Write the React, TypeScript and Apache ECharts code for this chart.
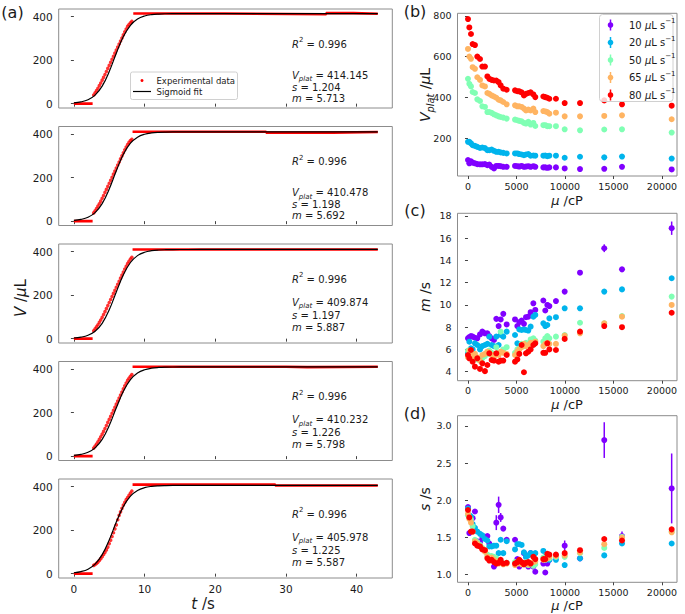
import React, { useEffect, useRef } from 'react';
import * as echarts from 'echarts';

const FONT = 'DejaVu Sans';
const TXT = '#1a1a1a';
const SPINE = '#8c8c8c';

// ---------------- (a) volume vs time ----------------
const T_TICKS = [0, 10, 20, 30, 40];
const V_TICKS = [0, 200, 400];
const ZERO_T = [0, 2.65];
const RISE_T = [2.8, 3.0, 3.2, 3.4, 3.6, 3.8, 4.0, 4.2, 4.4, 4.6, 4.8, 5.0, 5.2, 5.4, 5.6, 5.8, 6.0, 6.2, 6.4, 6.6, 6.8, 7.0, 7.2, 7.4, 7.6, 7.8, 8.0, 8.2];
const RISE_V1 = [40, 50, 60, 71, 83, 95, 108, 121, 134, 148, 162, 176, 190, 204, 218, 232, 246, 260, 274, 288, 302, 316, 330, 343, 355, 364, 372, 378];
const RISE_V2 = [38, 48, 58, 69, 80, 92, 105, 118, 132, 146, 160, 174, 188, 202, 216, 230, 244, 258, 272, 286, 300, 314, 328, 341, 352, 362, 370, 376];
const RISE_V3 = [36, 45, 54, 64, 75, 86, 98, 111, 124, 138, 152, 166, 180, 194, 208, 222, 236, 250, 264, 278, 292, 306, 320, 333, 345, 356, 366, 374];
const RISE_V4 = [37, 46, 56, 66, 77, 89, 101, 114, 127, 141, 155, 169, 183, 197, 211, 225, 239, 253, 267, 281, 295, 309, 323, 336, 348, 358, 367, 375];
const RISE_V5 = [38, 42, 47, 53, 61, 69, 78, 88, 98, 109, 122, 138, 154, 171, 188, 206, 224, 248, 268, 284, 300, 315, 328, 340, 350, 360, 370, 380];
const PLAT_1 = [[8.4, 414], [21.3, 414], [21.3, 411], [35.7, 411], [35.7, 416], [39.6, 416], [39.6, 413], [43, 413]];
const PLAT_2 = [[8.3, 411], [27.2, 411], [27.2, 407], [36.7, 407], [36.7, 410], [43, 410]];
const PLAT_3 = [[8.3, 410], [43, 410]];
const PLAT_4 = [[8.3, 411], [30, 411], [30, 409], [33, 409], [33, 411], [43, 411]];
const PLAT_5 = [[8.3, 409], [28.5, 409], [28.5, 405], [43, 405]];
const FIT_T = [0, 1, 2, 3, 4, 5, 6, 7, 8, 9, 10, 11, 12, 13, 14, 16, 20, 43];
const FIT_V1 = [3.6, 8.1, 18.2, 39.4, 80.4, 147.4, 231.6, 308.4, 360.2, 388.8, 402.7, 409.1, 411.9, 413.2, 413.7, 414.1, 414.1, 414.1];
const FIT_V2 = [3.5, 8.0, 18.0, 39.2, 80.5, 147.6, 231.5, 307.3, 358.3, 386.1, 399.5, 405.6, 408.4, 409.6, 410.1, 410.4, 410.5, 410.5];
const FIT_V3 = [3.0, 6.8, 15.4, 33.7, 70.2, 132.3, 214.6, 293.9, 350.0, 381.6, 397.1, 404.2, 407.4, 408.8, 409.4, 409.8, 409.9, 409.9];
const FIT_V4 = [3.6, 8.0, 17.7, 38.0, 76.8, 140.6, 222.0, 298.3, 351.8, 382.2, 397.3, 404.4, 407.6, 409.1, 409.7, 410.1, 410.2, 410.2];
const FIT_V5 = [4.2, 9.4, 20.6, 43.8, 87.2, 155.2, 236.9, 308.6, 356.3, 382.4, 395.2, 401.1, 403.8, 405.0, 405.6, 405.9, 406.0, 406.0];
const FIT_R2 = ['0.996', '0.996', '0.996', '0.996', '0.996'];
const FIT_VPLAT = ['414.145', '410.478', '409.874', '410.232', '405.978'];
const FIT_S = ['1.204', '1.198', '1.197', '1.226', '1.225'];
const FIT_M = ['5.713', '5.692', '5.887', '5.798', '5.587'];

// ---------------- (b)(c)(d) vs viscosity ----------------
const MU = [0, 140, 310, 480, 720, 960, 1240, 1480, 1750, 2000, 2200, 2440, 2680, 2920, 3160, 3370, 3640, 3990, 4850, 5090, 5290, 5530, 5770, 5980, 6220, 6460, 6740, 6940, 7770, 7970, 8180, 8390, 9070, 9970, 11550, 14050, 15880, 21000];
const MU_TICKS = [0, 5000, 10000, 15000, 20000];
const VP_TICKS = [200, 400, 600, 800];
const M_TICKS = [4, 6, 8, 10, 12, 14, 16, 18];
const S_TICKS = [1.0, 1.5, 2.0, 2.5, 3.0];
const RATES = ['10', '20', '50', '65', '80'];

const VP_10 = [96, 80, 90, 83, 80, 76, 75, 75, 76, 71, 74, 63, 55, 67, 67, 66, 63, 63, 67, 66, 64, 67, 63, 64, 66, 63, 66, 63, 60, 60, 58, 60, 60, 55, 52, 53, 63, 50];
const VP_20 = [185, 185, 177, 168, 165, 160, 155, 157, 154, 144, 144, 147, 141, 136, 136, 133, 131, 128, 128, 128, 125, 123, 120, 123, 125, 117, 118, 117, 117, 118, 115, 117, 117, 107, 112, 109, 113, 103];
const VP_50 = [492, 468, 455, 428, 423, 392, 384, 358, 355, 330, 330, 326, 319, 314, 309, 306, 303, 298, 293, 290, 287, 285, 277, 274, 282, 269, 277, 262, 266, 266, 261, 261, 261, 246, 241, 245, 246, 230];
const VP_65 = [638, 601, 590, 549, 541, 500, 487, 460, 455, 423, 419, 411, 406, 400, 390, 387, 379, 368, 363, 358, 358, 355, 347, 338, 342, 338, 347, 330, 335, 333, 330, 322, 327, 309, 309, 311, 314, 295];
const VP_80 = [784, 743, 711, 662, 657, 601, 589, 552, 552, 504, 492, 487, 484, 484, 476, 460, 444, 439, 436, 432, 431, 426, 411, 419, 423, 426, 416, 403, 406, 403, 400, 395, 395, 374, 374, 387, 368, 361];

const M_10 = [7.0, 7.1, 7.2, 7.15, 7.05, 7.0, 7.35, 7.6, 7.45, 7.45, 7.2, 7.0, 6.85, 8.75, 8.1, 8.7, 9.2, 8.25, 8.7, 8.1, 8.45, 8.6, 8.3, 8.9, 8.95, 9.35, 10.15, 9.55, 10.4, 9.5, 10.0, 9.9, 10.35, 11.2, 12.9, 15.1, 13.2, 16.9];
const M_20 = [5.65, 6.7, 6.1, 6.0, 6.55, 6.4, 6.0, 6.3, 6.4, 6.5, 7.15, 6.4, 6.3, 7.15, 6.4, 7.3, 7.15, 7.6, 7.3, 6.55, 7.8, 7.75, 7.8, 7.75, 7.7, 8.05, 8.95, 9.1, 8.35, 8.1, 8.2, 8.8, 8.9, 9.7, 9.7, 11.2, 11.4, 12.4];
const M_50 = [5.9, 5.6, 5.8, 5.5, 5.3, 5.1, 5.0, 5.2, 5.4, 5.6, 5.9, 5.7, 5.5, 6.2, 5.7, 7.6, 6.0, 6.2, 5.7, 6.0, 6.1, 6.5, 6.3, 6.6, 6.4, 6.9, 7.0, 6.8, 6.7, 7.0, 7.2, 7.0, 7.15, 7.3, 8.4, 8.35, 9.0, 10.75];
const M_65 = [5.3, 5.9, 5.5, 5.1, 5.6, 5.3, 5.0, 5.5, 5.6, 5.8, 5.7, 5.5, 5.3, 5.6, 5.5, 5.8, 5.7, 5.6, 5.5, 5.8, 6.0, 6.2, 6.5, 6.3, 6.4, 6.6, 6.6, 6.7, 6.3, 6.5, 6.6, 6.5, 6.5, 7.25, 7.45, 8.35, 8.95, 10.0];
const M_80 = [5.5, 5.2, 5.95, 4.9, 4.45, 5.2, 4.25, 4.75, 4.05, 4.6, 5.65, 5.05, 5.0, 5.65, 4.9, 5.0, 5.0, 5.5, 4.9, 5.1, 5.6, 6.4, 3.95, 5.65, 5.8, 6.0, 6.4, 6.55, 5.7, 5.7, 6.55, 6.0, 5.95, 6.95, 7.6, 8.1, 8.0, 9.3];

const S_10 = [1.91, 1.56, 1.76, 1.76, 1.85, 1.45, 1.44, 1.49, 1.51, 1.52, 1.42, 1.24, 1.11, 1.70, 1.94, 1.77, 1.62, 1.47, 1.47, 1.21, 1.11, 1.15, 1.29, 1.24, 1.11, 1.29, 1.11, 1.04, 1.15, 1.03, 1.15, 1.20, 1.25, 1.39, 1.22, 2.81, 1.52, 2.16];
const S_20 = [1.89, 1.80, 1.78, 1.68, 1.63, 1.58, 1.55, 1.53, 1.48, 1.46, 1.38, 1.38, 1.39, 1.39, 1.29, 1.47, 1.29, 1.45, 1.34, 1.41, 1.41, 1.40, 1.30, 1.24, 1.26, 1.29, 1.27, 1.29, 1.32, 1.24, 1.22, 1.20, 1.20, 1.13, 1.22, 1.26, 1.42, 1.42];
const S_50 = [1.80, 1.77, 1.74, 1.65, 1.47, 1.44, 1.40, 1.36, 1.33, 1.27, 1.25, 1.25, 1.24, 1.22, 1.18, 1.17, 1.15, 1.16, 1.17, 1.16, 1.18, 1.15, 1.14, 1.17, 1.13, 1.15, 1.12, 1.14, 1.23, 1.20, 1.24, 1.22, 1.24, 1.24, 1.29, 1.36, 1.51, 1.58];
const S_65 = [1.82, 1.75, 1.70, 1.58, 1.45, 1.42, 1.38, 1.35, 1.31, 1.24, 1.22, 1.23, 1.20, 1.18, 1.15, 1.16, 1.14, 1.15, 1.13, 1.15, 1.16, 1.14, 1.15, 1.16, 1.14, 1.16, 1.17, 1.18, 1.20, 1.21, 1.22, 1.24, 1.25, 1.26, 1.30, 1.41, 1.50, 1.57];
const S_80 = [1.87, 1.77, 1.58, 1.58, 1.42, 1.39, 1.38, 1.34, 1.33, 1.22, 1.19, 1.20, 1.17, 1.15, 1.16, 1.20, 1.15, 1.16, 1.15, 1.17, 1.20, 1.17, 1.14, 1.16, 1.17, 1.15, 1.24, 1.21, 1.21, 1.21, 1.28, 1.27, 1.27, 1.29, 1.33, 1.48, 1.46, 1.61];

// error bars (index into MU, half-length), 10 uL/s series
const M_ERR_10 = [[35, 0.35], [37, 0.6]];
const S_ERR_10 = [[13, 0.1], [14, 0.11], [15, 0.06], [33, 0.07], [35, 0.24], [36, 0.06], [37, 0.47]];

const COLORS = ['#8000ff', '#00b4ec', '#80ffb4', '#ffb462', '#ff0000'];

// ---------------- layout ----------------
const L_LEFT = 58.7, L_W = 333.6, L_H = 99;
const L_TOPS = [9, 126.5, 244, 361.5, 479];
const R_LEFT = 457.5, R_W = 219.5;
const R_PANELS = [
  { top: 13.3, height: 162.7, min: 18, max: 812 },
  { top: 213.3, height: 167.4, min: 3.19, max: 18.24 },
  { top: 415.7, height: 166.6, min: 0.898, max: 3.138 },
];

function rich(size: number) {
  return {
    i: { fontSize: size, fontFamily: FONT, fontStyle: 'italic', fill: TXT },
    sup: { fontSize: size * 0.7, fontFamily: FONT, fill: TXT, verticalAlign: 'top', lineHeight: size * 0.75 },
    sub: { fontSize: size * 0.7, fontFamily: FONT, fontStyle: 'italic', fill: TXT, verticalAlign: 'bottom', lineHeight: size * 0.75 },
  };
}

function txt(x: number, y: number, text: string, size: number, o: any = {}) {
  return {
    type: 'text', x, y, rotation: o.rot || 0, z: o.z || 50, silent: true,
    style: {
      text, fontSize: size, fontFamily: FONT, fill: TXT,
      align: o.align || 'left', verticalAlign: 'middle',
      lineHeight: o.lh || size * 1.25, rich: rich(size),
    },
  };
}

function xAxis(gi: number, min: number, max: number, ticks: number[], labels: boolean, fs: number, fmt?: (v: number) => string) {
  return {
    type: 'value', gridIndex: gi, min, max,
    axisLine: { show: false }, splitLine: { show: false },
    axisTick: { show: true, inside: false, length: 3, lineStyle: { color: '#444', width: 1 }, customValues: ticks },
    axisLabel: { show: labels, customValues: ticks, fontFamily: FONT, fontSize: fs, color: TXT, margin: 5, formatter: fmt || ((v: number) => String(v)) },
  };
}
function yAxis(gi: number, min: number, max: number, ticks: number[], fs: number, fmt?: (v: number) => string) {
  return {
    type: 'value', gridIndex: gi, min, max,
    axisLine: { show: false }, splitLine: { show: false },
    axisTick: { show: true, inside: false, length: 3, lineStyle: { color: '#444', width: 1 }, customValues: ticks },
    axisLabel: { show: true, customValues: ticks, fontFamily: FONT, fontSize: fs, color: TXT, margin: 6, formatter: fmt || ((v: number) => String(v)) },
  };
}

function buildOption() {
  const grids: any[] = [];
  const xs: any[] = [];
  const ys: any[] = [];
  const series: any[] = [];
  const graphics: any[] = [];

  const RISES = [RISE_V1, RISE_V2, RISE_V3, RISE_V4, RISE_V5];
  const PLATS = [PLAT_1, PLAT_2, PLAT_3, PLAT_4, PLAT_5];
  const FITS = [FIT_V1, FIT_V2, FIT_V3, FIT_V4, FIT_V5];

  L_TOPS.forEach((top, p) => {
    grids.push({ left: L_LEFT, top, width: L_W, height: L_H, show: true, borderColor: SPINE, borderWidth: 1, backgroundColor: 'transparent', outerBoundsMode: 'none' });
    xs.push(xAxis(p, -2.15, 45.05, T_TICKS, p === 4, 10.5));
    ys.push(yAxis(p, -20, 435, V_TICKS, 10.5));
    const red = '#ff0000';
    series.push({ type: 'line', xAxisIndex: p, yAxisIndex: p, data: ZERO_T.map((t) => [t, 0]), symbol: 'none', lineStyle: { color: red, width: 2.6 }, silent: true, z: 2 });
    series.push({ type: 'line', xAxisIndex: p, yAxisIndex: p, data: PLATS[p], symbol: 'none', lineStyle: { color: red, width: 2.6 }, silent: true, z: 2 });
    series.push({ type: 'scatter', xAxisIndex: p, yAxisIndex: p, data: RISE_T.map((t, i) => [t, RISES[p][i]]), symbol: 'circle', symbolSize: 3.6, itemStyle: { color: red }, silent: true, z: 2 });
    series.push({ type: 'line', xAxisIndex: p, yAxisIndex: p, data: FIT_T.map((t, i) => [t, FITS[p][i]]), symbol: 'none', smooth: 0.4, lineStyle: { color: '#000', width: 1.2 }, silent: true, z: 3 });

    const big = p < 2;
    graphics.push(txt(292, top + 35, `{i|R}{sup|2} = ${FIT_R2[p]}`, 10, { lh: 15 }));
    graphics.push(txt(292, top + (big ? 66 : 58), `{i|V}{sub|plat} = ${FIT_VPLAT[p]}`, 10, { lh: 15 }));
    graphics.push(txt(292, top + (big ? 78 : 71), `{i|s} = ${FIT_S[p]}`, 10));
    graphics.push(txt(292, top + (big ? 89 : 83), `{i|m} = ${FIT_M[p]}`, 10));
  });

  const RIGHT_DATA = [
    [VP_10, VP_20, VP_50, VP_65, VP_80],
    [M_10, M_20, M_50, M_65, M_80],
    [S_10, S_20, S_50, S_65, S_80],
  ];
  const RTICKS = [VP_TICKS, M_TICKS, S_TICKS];
  const ERRS: any[] = [[], M_ERR_10, S_ERR_10];

  R_PANELS.forEach((rp, k) => {
    const gi = 5 + k;
    grids.push({ left: R_LEFT, top: rp.top, width: R_W, height: rp.height, show: true, borderColor: SPINE, borderWidth: 1, backgroundColor: 'transparent', outerBoundsMode: 'none' });
    xs.push(xAxis(gi, -1080, 21550, MU_TICKS, true, 9.5));
    ys.push(yAxis(gi, rp.min, rp.max, RTICKS[k], 9.5, k === 2 ? (v: number) => v.toFixed(1) : undefined));
    if (ERRS[k].length) {
      const vals = RIGHT_DATA[k][0];
      series.push({
        type: 'custom', xAxisIndex: gi, yAxisIndex: gi, silent: true, z: 2,
        data: ERRS[k].map(([i, e]: number[]) => [MU[i], vals[i], e]),
        encode: { x: 0, y: 1 },
        renderItem: (_params: any, api: any) => {
          const x = api.value(0), y = api.value(1), e = api.value(2);
          const a = api.coord([x, y - e]);
          const b = api.coord([x, y + e]);
          return { type: 'line', shape: { x1: a[0], y1: a[1], x2: b[0], y2: b[1] }, style: { stroke: COLORS[0], lineWidth: 1.5 } };
        },
      });
    }
    RIGHT_DATA[k].forEach((arr, r) => {
      series.push({
        type: 'scatter', xAxisIndex: gi, yAxisIndex: gi, silent: true, z: 3,
        data: MU.map((m, i) => [m, arr[i]]),
        symbol: 'circle', symbolSize: 6, itemStyle: { color: COLORS[r], opacity: 1 },
      });
    });
  });

  // panel labels
  graphics.push(txt(12.5, 12, '(a)', 16, { align: 'center' }));
  graphics.push(txt(415, 11, '(b)', 16, { align: 'center' }));
  graphics.push(txt(415, 210, '(c)', 16, { align: 'center' }));
  graphics.push(txt(415, 413, '(d)', 16, { align: 'center' }));

  // axis titles
  graphics.push(txt(21, 298, '{i|V} /{i|μ}L', 15, { align: 'center', rot: Math.PI / 2 }));
  graphics.push(txt(203, 604, '{i|t} /s', 15, { align: 'center' }));
  graphics.push(txt(425, 95, '{i|V}{sub|plat} /{i|μ}L', 14, { align: 'center', rot: Math.PI / 2, lh: 20 }));
  graphics.push(txt(425, 297, '{i|m} /s', 14, { align: 'center', rot: Math.PI / 2 }));
  graphics.push(txt(425, 499, '{i|s} /s', 14, { align: 'center', rot: Math.PI / 2 }));
  graphics.push(txt(567, 200.5, '{i|μ} /cP', 13, { align: 'center' }));
  graphics.push(txt(567, 404, '{i|μ} /cP', 13, { align: 'center' }));
  graphics.push(txt(567, 605, '{i|μ} /cP', 13, { align: 'center' }));

  // legend (a)
  graphics.push({ type: 'rect', z: 100, silent: true, shape: { x: 130.5, y: 72, width: 107, height: 27.5, r: 2 }, style: { fill: 'rgba(255,255,255,0.8)', stroke: '#d0d0d0', lineWidth: 1 } });
  graphics.push({ type: 'circle', z: 101, silent: true, shape: { cx: 142, cy: 80.5, r: 1.5 }, style: { fill: '#ff0000' } });
  graphics.push({ type: 'line', z: 101, silent: true, shape: { x1: 133, y1: 91.5, x2: 151, y2: 91.5 }, style: { stroke: '#000', lineWidth: 1.2 } });
  graphics.push(txt(156.5, 80.5, 'Experimental data', 8.5, { z: 101 }));
  graphics.push(txt(156.5, 91.5, 'Sigmoid fit', 8.5, { z: 101 }));

  // legend (b)
  graphics.push({ type: 'rect', z: 100, silent: true, shape: { x: 599.5, y: 14.5, width: 73.5, height: 87, r: 3 }, style: { fill: 'rgba(255,255,255,0.8)', stroke: '#d0d0d0', lineWidth: 1 } });
  RATES.forEach((rate, r) => {
    const y = 25 + 17.5 * r;
    graphics.push({ type: 'line', z: 101, silent: true, shape: { x1: 610.5, y1: y - 5.5, x2: 610.5, y2: y + 5.5 }, style: { stroke: COLORS[r], lineWidth: 1.5 } });
    graphics.push({ type: 'circle', z: 102, silent: true, shape: { cx: 610.5, cy: y, r: 2.8 }, style: { fill: COLORS[r] } });
    graphics.push(txt(629, y, `${rate} {i|μ}L s{sup|−1}`, 10, { z: 101, lh: 15 }));
  });

  return {
    animation: false,
    backgroundColor: '#ffffff',
    grid: grids,
    xAxis: xs,
    yAxis: ys,
    series,
    graphic: { elements: graphics },
  };
}

export default function App() {
  const ref = useRef<HTMLDivElement>(null);
  useEffect(() => {
    if (!ref.current) return;
    const chart = echarts.init(ref.current, null, { renderer: 'svg' });
    chart.setOption(buildOption() as any);
    return () => chart.dispose();
  }, []);
  return <div ref={ref} style={{ position: 'fixed', left: 0, top: 0, width: 685, height: 614, background: '#fff' }} />;
}
